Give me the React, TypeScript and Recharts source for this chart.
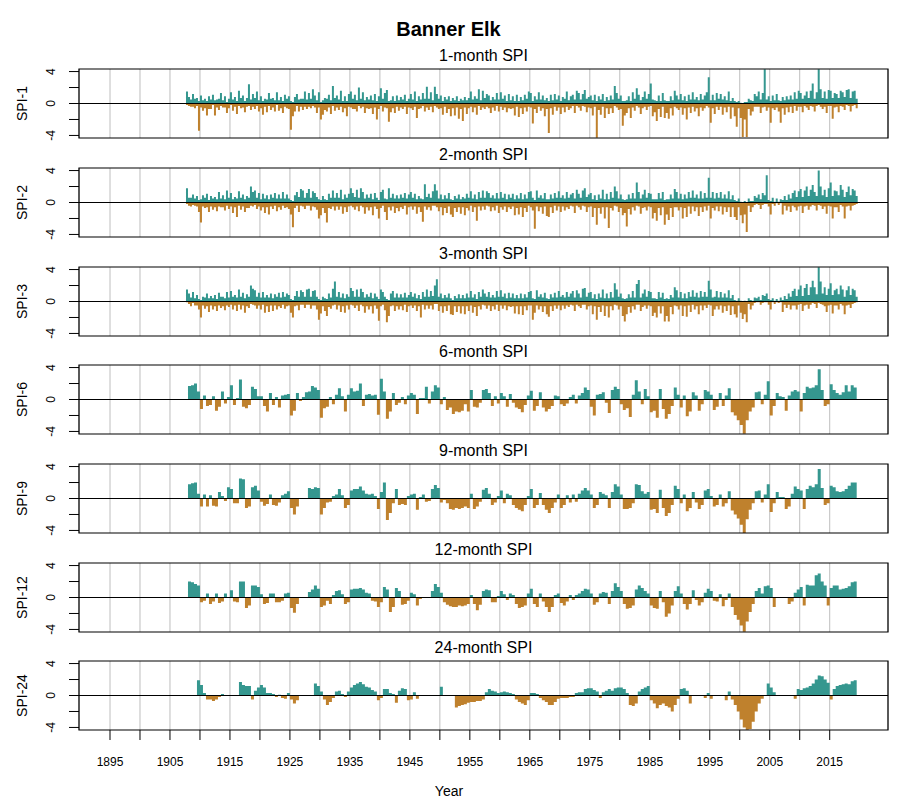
import React from "react";
import {
  ComposedChart,
  Area,
  XAxis,
  YAxis,
  CartesianGrid,
  ReferenceLine,
  ReferenceArea,
} from "recharts";

// short-scale panels are read in 4-month bins, long-scale panels in half-year bins
const FAST_START = 1907 + 2 / 3;
const FAST_STEP = 1 / 3;
const SLOW_START = 1908;
const SLOW_STEP = 0.5;

// main spike of each 4-month bin
const spi1 = [
  // 1907
  1.5,
  // 1908-1912
  0.8, -0.4, 1.2, -0.6, 0.7, -3.4, 1.0, -0.9, 0.6, -1.5, 0.9, -0.7, 1.1, -1.5, 0.5,
  // 1913-1917
  -0.8, 1.3, -0.5, 0.9, -1.2, 0.6, 1.4, -0.9, 0.8, -1.3, 1.6, -0.6, 1.0, -1.1, 0.7,
  // 1918-1922
  2.4, -0.8, 1.2, -0.7, 1.5, -1.0, 0.9, -1.4, 0.6, -1.1, 1.3, -0.8, 0.7, -1.0, 1.4,
  // 1923-1927
  -0.9, 0.8, -1.2, 1.1, -0.6, 0.9, -3.3, -1.6, 0.8, 1.2, -1.0, 0.6, -0.8, 1.5, -0.7,
  // 1928-1932
  1.3, -0.6, 1.8, 1.0, -1.2, 1.4, -2.0, -1.4, 0.7, -1.0, 1.1, -1.3, 2.2, -0.9, 1.0,
  // 1933-1937
  -0.8, 1.6, -1.1, 0.9, -1.6, 1.2, 1.5, -0.7, 1.1, -1.0, 2.0, -0.6, 1.4, -1.2, 0.8,
  // 1938-1942
  -0.7, 1.0, -1.3, 1.2, -2.0, 0.9, 1.9, -1.0, 1.3, 1.7, -2.3, -1.1, 0.9, -1.2, 1.0,
  // 1943-1947
  -0.9, 0.8, -0.7, 1.1, -1.3, 0.6, 1.2, -0.8, 1.5, -1.8, 0.9, -0.6, 1.3, -1.0, 2.1,
  // 1948-1952
  -0.8, 1.4, -1.1, 2.1, 1.2, -0.7, 1.0, -1.4, 0.8, -1.2, 0.9, -1.6, 0.7, -1.5, 0.9,
  // 1953-1957
  -1.9, 0.6, -2.2, 0.8, -1.3, 0.7, 1.5, -1.1, 0.9, -1.4, 1.8, -0.8, 1.6, -0.7, 1.2,
  // 1958-1962
  1.0, -1.2, 0.8, -0.9, 1.3, -1.0, 1.4, -0.8, 1.0, -1.1, 1.2, -0.7, 0.9, -1.5, 1.1,
  // 1963-1967
  -1.7, 0.8, -1.3, 1.1, -1.0, 1.5, 1.3, -2.5, 0.9, -1.2, 1.4, -0.9, 1.0, -1.6, 0.7,
  // 1968-1972
  -3.7, 1.1, -1.4, 1.2, -0.9, 1.0, -1.3, 0.8, -1.1, 1.5, -0.8, 0.9, 1.1, -1.2, 1.6,
  // 1973-1977
  1.3, -0.9, 1.2, 1.7, -1.1, 0.8, 1.0, -1.5, 1.1, -4.3, 0.9, -1.4, 1.2, -1.8, 0.8,
  // 1978-1982
  -1.3, 1.0, -1.2, 2.2, 1.3, -0.8, 1.0, -2.8, -1.5, -1.2, 0.9, -1.8, 1.4, -0.9, 1.9,
  // 1983-1987
  1.1, -1.3, 0.8, 1.5, -0.8, 1.2, 2.5, -1.6, -1.1, -2.2, 1.0, -1.7, 1.3, -1.8, -1.2,
  // 1988-1992
  -1.9, 0.9, -1.5, 1.6, 1.0, -0.8, 1.2, -1.4, 0.9, -2.0, 1.1, -1.2, 1.4, -1.0, 0.8,
  // 1993-1997
  -1.6, 1.2, -0.9, 1.0, 1.4, 3.3, -2.4, 1.1, -1.3, 1.3, -0.8, 1.2, -1.4, 0.9, -1.1,
  // 1998-2002
  1.5, -1.9, 0.7, -1.6, -2.9, 0.3, -1.8, -4.2, -2.0, -4.2, 0.6, -1.5, -1.0, 1.2, 0.9,
  // 2003-2007
  1.5, -1.2, 1.3, 4.3, -0.9, 0.9, -2.4, 1.0, -0.8, 1.2, -1.0, -2.4, 0.8, -1.4, 0.9,
  // 2008-2012
  -1.1, 1.0, -1.2, 1.4, -0.9, 1.6, 1.3, -1.1, 1.0, 1.5, -0.8, 1.6, 2.5, -1.0, 1.4,
  // 2013-2017
  4.3, 1.8, -0.7, 1.5, -1.2, 1.7, 1.6, -1.9, 1.3, 1.2, -1.1, 1.6, 1.4, -0.8, 1.7,
  // 2018-2019
  1.8, -1.0, 1.5, 1.6, -0.6,
];

// smaller opposite-sign spike inside the same 4-month bin
const spi1Alt = [
  -0.2,
  -0.3, 0.5, -0.4, 0.6, -0.3, 0.3, -0.5, 0.4, -0.6, 0.3, -0.7, 0.5, -0.2, 0.4, -0.5,
  0.6, -0.3, 0.4, -0.5, 0.2, -0.6, -0.2, 0.5, -0.4, 0.3, -0.3, 0.7, -0.5, 0.3, -0.4,
  -0.3, 0.5, -0.4, 0.7, -0.3, 0.4, -0.6, 0.3, -0.4, 0.5, -0.3, 0.6, -0.5, 0.4, -0.2,
  0.4, -0.6, 0.3, -0.4, 0.6, -0.7, 0.3, 0.2, -1.0, -0.3, 0.5, -0.4, 0.6, -0.4, 0.5,
  -0.4, 0.6, -0.3, -0.5, 0.4, -0.5, 0.2, 0.4, -0.8, 0.6, -0.5, 0.4, -0.3, 0.7, -0.5,
  0.5, -0.4, 0.3, -0.6, 0.3, -0.4, -0.5, 0.6, -0.7, 0.4, -0.3, 0.6, -0.4, 0.4, -0.6,
  0.5, -0.6, 0.4, -0.5, 0.3, -0.7, -0.3, 0.6, -0.5, -0.6, 0.3, 0.4, -0.6, 0.3, -0.4,
  0.4, -0.5, 0.5, -0.4, 0.3, -0.5, -0.6, 0.5, -0.4, 0.3, -0.7, 0.5, -0.3, 0.6, -0.5,
  0.6, -0.4, 0.4, -0.3, -0.5, 0.6, -0.6, 0.3, -0.4, 0.5, -0.7, 0.3, -0.6, 0.4, -0.5,
  0.3, -0.7, 0.4, -0.5, 0.4, -0.6, -0.4, 0.5, -0.5, 0.6, -0.3, 0.4, -0.5, 0.7, -0.4,
  -0.6, 0.4, -0.5, 0.5, -0.3, 0.5, -0.4, 0.6, -0.5, 0.3, -0.6, 0.4, -0.6, 0.3, -0.4,
  0.3, -0.6, 0.4, -0.5, 0.6, -0.4, -0.5, 0.3, -0.7, 0.5, -0.4, 0.5, -0.6, 0.4, -0.7,
  0.3, -0.6, 0.4, -0.4, 0.5, -0.5, 0.3, -0.5, 0.6, -0.4, 0.4, -0.6, -0.3, 0.5, -0.3,
  -0.5, 0.5, -0.3, -0.4, 0.6, -0.5, -0.6, 0.4, -0.4, 0.3, -0.8, 0.5, -0.4, 0.3, -0.6,
  0.4, -0.6, 0.5, -0.3, -0.5, 0.6, -0.7, 0.3, 0.3, 0.4, -0.6, 0.3, -0.5, 0.6, -0.3,
  -0.5, 0.4, -0.6, -0.4, 0.6, -0.4, -0.3, 0.5, 0.4, 0.3, -0.7, 0.3, -0.4, 0.4, 0.3,
  0.3, -0.6, 0.4, -0.4, -0.6, 0.5, -0.5, 0.4, -0.6, 0.3, -0.5, 0.5, -0.4, 0.5, -0.6,
  0.4, -0.5, 0.5, -0.6, -0.3, -0.5, 0.4, -0.6, 0.4, -0.4, 0.6, -0.4, 0.5, -0.5, 0.4,
  -0.4, 0.3, -0.5, 0.3, 0.2, -0.6, 0.1, 0, 0.2, 0.2, -0.7, 0.4, 0.3, -0.4, -0.4,
  -0.4, 0.5, -0.5, -0.4, 0.5, -0.5, 0.3, -0.6, 0.4, -0.5, 0.4, 0.3, -0.6, 0.4, -0.5,
  0.5, -0.4, 0.5, -0.3, 0.6, -0.4, -0.4, 0.6, -0.3, -0.5, 0.7, -0.3, -0.4, 0.6, -0.3,
  -0.2, -0.4, 0.7, -0.4, 0.6, -0.3, -0.3, 0.7, -0.5, -0.4, 0.7, -0.3, -0.4, 0.8, -0.2,
  -0.3, 0.7, -0.3, -0.2, 0.6,
];

const spi2 = [
  // 1907
  1.8,
  // 1908-1912
  0.6, -0.5, 1.0, -0.4, 0.8, -1.2, -2.5, 0.9, -0.7, 1.1, -1.2, 0.8, -0.9, 0.7, -1.1,
  // 1913-1917
  1.3, -0.6, 0.9, -1.0, 1.5, -0.8, 1.2, -1.3, 0.7, -1.8, 1.4, -0.9, 1.0, -1.2, 0.8,
  // 1918-1922
  -0.7, 2.0, 1.3, 1.5, -0.8, 1.2, -1.0, 1.1, -1.3, 0.9, -1.5, 1.0, -0.8, 1.2, -1.1,
  // 1923-1927
  1.0, -0.9, 1.3, -0.7, 1.0, -0.8, -1.5, -3.1, 0.9, 1.3, -1.2, 1.7, 1.5, -0.8, 1.2,
  // 1928-1932
  1.7, -1.0, 1.4, 1.2, -0.9, -2.0, -1.6, 0.8, -1.3, -2.5, 1.1, -0.8, 1.5, -1.0, 1.2,
  // 1933-1937
  -0.9, 1.6, -1.4, 1.0, -1.2, 1.1, 1.8, 1.2, -0.9, 1.6, -1.1, 1.8, 1.3, -1.4, 1.0,
  // 1938-1942
  -1.0, 1.1, -1.6, 1.2, -0.8, -2.0, 1.3, 1.6, -1.2, -2.2, 1.8, -1.0, 1.1, -1.3, 0.9,
  // 1943-1947
  -1.1, 1.0, -0.8, 1.2, -1.5, 1.0, 1.3, -0.9, 1.1, -1.4, 0.8, -1.2, -2.4, 2.3, -0.9,
  // 1948-1952
  1.1, -1.0, 1.4, 2.3, 1.5, -1.1, 1.0, -1.6, 0.9, -1.3, 1.2, -1.5, -1.8, 0.8, -1.2,
  // 1953-1957
  1.0, -1.4, 0.7, -1.6, 1.1, -1.0, 1.4, -1.2, 1.0, -2.3, 1.3, -1.0, 1.5, -0.9, 1.4,
  // 1958-1962
  1.2, -1.1, 0.9, -1.0, 1.2, -1.3, 1.3, -0.9, 1.1, -1.2, 1.0, -0.8, 1.1, -1.6, 0.9,
  // 1963-1967
  -1.5, 1.2, -1.8, 1.0, -1.2, 1.3, 1.4, -1.0, -3.3, 1.5, -1.1, 0.9, -1.4, 1.2, -1.7,
  // 1968-1972
  -1.8, 1.0, -1.3, 1.2, -1.0, 1.4, -1.2, 0.9, -1.0, 1.3, -0.8, 1.0, 1.2, -1.3, 1.6,
  // 1973-1977
  1.1, -0.9, 1.5, 1.8, -1.2, 1.0, 1.2, -1.8, 0.9, -2.8, 1.0, -1.4, 1.6, -2.0, 1.1,
  // 1978-1982
  -3.2, 1.3, -1.0, 2.0, 1.4, -1.2, 1.0, -1.6, -1.3, -3.0, 1.0, -1.5, 1.2, -1.0, 2.5,
  // 1983-1987
  1.3, -1.4, 1.0, 1.6, -1.0, 1.2, 1.1, -2.0, -1.3, -2.3, 1.2, -1.6, 1.3, -2.8, -1.5,
  // 1988-1992
  -2.2, 1.0, -1.8, 1.7, 1.3, -1.0, 1.1, -2.0, 1.0, -1.8, 1.3, -1.4, 1.5, -1.1, 1.0,
  // 1993-1997
  -1.7, 1.4, -1.2, 1.2, -1.0, 3.1, -2.0, 1.3, -1.0, 1.2, -1.1, 1.3, -1.5, 1.0, -1.2,
  // 1998-2002
  1.4, -1.8, 0.9, -1.8, -2.2, 0.5, -1.6, -2.6, -1.5, -3.7, 0.5, -1.2, -0.6, 0.8, 0.6,
  // 2003-2007
  1.0, -0.8, 1.2, 0.9, 3.4, -0.5, -1.5, 0.6, -0.4, 0.5, -0.3, 0.4, -1.5, 0.8, -1.0,
  // 2008-2012
  1.0, -1.2, 1.2, 1.5, -1.0, 1.4, 1.7, -1.3, 1.5, 2.0, -0.9, 1.6, 2.2, 1.3, -1.0,
  // 2013-2017
  4.0, 2.0, -0.8, 1.6, -1.4, 1.8, 2.5, -2.0, 1.5, 1.4, -1.2, 2.2, 1.6, -2.0, 1.3,
  // 2018-2019
  2.0, -1.0, 1.7, 1.5, 0.8,
];

const spi2Alt = [
  -0.2,
  -0.4, 0.6, -0.3, 0.5, -0.5, 0.3, 0.4, -0.5, 0.6, -0.6, 0.3, -0.5, 0.5, -0.6, 0.4,
  -0.5, 0.5, -0.6, 0.4, -0.4, 0.6, -0.5, 0.4, -0.6, 0.5, -0.4, 0.6, -0.5, 0.4, -0.7,
  0.6, -0.4, -0.5, -0.3, 0.6, -0.5, 0.4, -0.6, 0.5, -0.6, 0.4, -0.5, 0.6, -0.4, 0.5,
  -0.6, 0.5, -0.4, 0.5, -0.6, 0.5, 0.3, 0.2, -0.7, -0.4, 0.7, -0.4, -0.5, 0.6, -0.4,
  -0.4, 0.6, -0.5, -0.6, 0.7, 0.4, 0.3, -0.7, 0.4, 0.3, -0.7, 0.6, -0.5, 0.6, -0.5,
  0.6, -0.5, 0.4, -0.6, 0.6, -0.5, -0.4, -0.6, 0.7, -0.5, 0.6, -0.4, -0.6, 0.5, -0.6,
  0.6, -0.6, 0.4, -0.5, 0.6, 0.3, -0.7, -0.4, 0.5, 0.4, -0.6, 0.6, -0.5, 0.5, -0.7,
  0.5, -0.6, 0.6, -0.4, 0.5, -0.6, -0.5, 0.6, -0.5, 0.4, -0.6, 0.5, 0.4, -0.5, 0.7,
  -0.6, 0.6, -0.4, -0.4, -0.6, 0.5, -0.6, 0.4, -0.7, 0.5, -0.5, 0.4, 0.3, -0.7, 0.5,
  -0.6, 0.4, -0.6, 0.5, -0.7, 0.6, -0.4, 0.5, -0.6, 0.4, -0.5, 0.6, -0.5, 0.6, -0.4,
  -0.5, 0.6, -0.6, 0.5, -0.4, 0.5, -0.6, 0.6, -0.5, 0.4, -0.6, 0.6, -0.5, 0.4, -0.7,
  0.5, -0.6, 0.4, -0.7, 0.5, -0.4, -0.6, 0.6, 0.3, -0.5, 0.6, -0.6, 0.5, -0.5, 0.4,
  0.4, -0.6, 0.5, -0.4, 0.6, -0.5, 0.6, -0.5, 0.5, -0.6, 0.6, -0.4, -0.5, 0.5, -0.4,
  -0.6, 0.6, -0.4, -0.5, 0.7, -0.6, -0.5, 0.4, -0.7, 0.3, -0.7, 0.5, -0.6, 0.4, -0.6,
  0.4, -0.7, 0.6, -0.4, -0.5, 0.5, -0.7, 0.4, 0.3, 0.4, -0.8, 0.5, -0.6, 0.5, -0.4,
  -0.5, 0.5, -0.7, -0.6, 0.6, -0.5, -0.6, 0.4, 0.4, 0.4, -0.7, 0.5, -0.6, 0.3, 0.4,
  0.4, -0.7, 0.5, -0.6, -0.6, 0.5, -0.6, 0.4, -0.7, 0.5, -0.5, 0.6, -0.5, 0.6, -0.6,
  0.5, -0.6, 0.5, -0.5, 0.6, -0.4, 0.6, -0.7, 0.5, -0.5, 0.6, -0.5, 0.5, -0.6, 0.5,
  -0.6, 0.4, -0.6, 0.3, 0.2, -0.6, 0.1, 0, 0.2, 0, -0.4, 0.2, 0.2, -0.3, -0.2,
  -0.3, 0.4, -0.3, -0.2, -0.2, 0.3, 0.2, -0.2, 0.1, -0.1, 0.1, -0.1, 0.3, -0.4, 0.3,
  -0.5, 0.5, -0.4, -0.6, 0.7, -0.5, -0.4, 0.7, -0.5, -0.4, 0.8, -0.5, -0.3, -0.4, 0.8,
  -0.3, -0.4, 0.9, -0.5, 0.7, -0.4, -0.5, 0.8, -0.6, -0.6, 0.9, -0.3, -0.5, 0.7, -0.5,
  -0.4, 0.9, -0.4, -0.3, -0.2,
];

const spi3 = [
  // 1907
  1.5,
  // 1908-1912
  1.0, -0.6, 1.2, -0.5, 0.8, -1.0, -2.0, 0.6, -0.9, 1.0, -1.3, 0.7, -1.0, 0.8, -1.2,
  // 1913-1917
  1.1, -0.8, 0.6, -1.1, 1.2, -0.7, 1.3, -1.0, 0.8, -1.2, 1.5, -1.0, 1.1, -1.4, 0.9,
  // 1918-1922
  -0.8, 2.0, 1.6, 1.4, -0.9, 1.1, -1.0, 1.2, -1.4, 0.8, -1.3, 1.0, -1.2, 0.9, -1.0,
  // 1923-1927
  1.1, -0.8, 1.2, -0.9, 1.0, 0.8, -1.4, -2.0, 0.7, 1.3, -1.1, 1.4, 1.2, -0.8, 1.5,
  // 1928-1932
  1.6, -0.9, 1.3, 1.4, -1.0, -2.3, -1.5, 0.6, -1.2, -1.8, 1.0, -0.9, 1.6, 2.5, -1.0,
  // 1933-1937
  1.2, -1.3, 1.0, -1.4, 0.9, -1.0, 1.7, 1.3, -0.8, 1.5, -1.2, 1.6, 1.2, -1.4, 0.9,
  // 1938-1942
  -1.0, 1.1, -1.5, 1.0, -0.9, -2.4, 1.5, 1.2, -1.1, -2.6, -1.8, 1.0, 1.3, -1.2, 1.0,
  // 1943-1947
  -1.0, 0.9, -1.1, 1.1, -1.3, 0.8, 1.2, -0.8, 1.0, -1.2, 0.8, -2.0, 1.2, -1.0, 1.5,
  // 1948-1952
  -0.9, 1.3, -1.0, 2.0, 2.8, -1.2, 1.0, -1.4, 0.8, -1.2, 1.0, -1.6, -1.7, 0.7, -1.3,
  // 1953-1957
  0.9, -1.5, 0.8, -1.6, 1.0, -1.2, 1.3, -1.4, 0.9, -1.8, 1.2, -1.0, 1.5, 1.0, -0.9,
  // 1958-1962
  1.2, -1.2, 0.8, -1.0, 1.3, -1.2, 1.4, -0.9, 1.0, -1.1, 1.1, -0.7, 1.0, -1.5, 0.8,
  // 1963-1967
  -1.6, 1.0, -1.7, 0.9, -1.1, 1.2, 1.3, -2.3, -1.4, 1.4, -1.0, 0.9, -1.3, 1.1, -1.6,
  // 1968-1972
  -1.9, 0.9, -1.2, 1.1, -0.9, 1.3, -1.1, 0.8, -0.9, 1.2, -0.7, 1.0, 1.3, -1.2, 1.4,
  // 1973-1977
  1.0, -0.8, 1.6, 1.7, -1.0, 1.1, 1.2, -1.6, 0.9, -2.3, 1.0, -1.3, 1.5, -1.8, 1.0,
  // 1978-1982
  -2.0, 1.2, -1.1, 2.3, 1.5, -1.0, 1.0, -1.8, -2.5, -1.6, 0.9, -1.4, 1.3, -1.0, 2.2,
  // 1983-1987
  2.7, -1.2, 1.0, 1.5, -0.9, 1.3, 1.2, -1.8, -1.4, -2.0, 1.2, -1.5, 1.1, -2.5, -1.8,
  // 1988-1992
  -2.5, 0.8, -1.6, 1.8, 1.4, -1.0, 1.2, -1.8, 1.0, -1.9, 1.2, -1.3, 1.4, -1.0, 1.1,
  // 1993-1997
  -1.6, 1.3, -1.1, 1.2, -0.8, 2.6, 1.5, -1.8, -1.0, 1.3, -1.0, 1.2, -1.4, 1.0, -1.2,
  // 1998-2002
  1.4, -1.7, 0.8, -1.6, -2.0, 0.4, -1.4, -2.2, -1.6, -2.6, 0.4, -1.0, -0.5, 0.5, 0.4,
  // 2003-2007
  0.6, -0.4, 0.8, 0.7, 1.0, -0.4, -1.0, 0.4, -0.3, 0.3, -0.2, 0.5, -1.3, 0.7, -0.8,
  // 2008-2012
  1.0, -1.0, 1.3, 1.6, -1.0, 1.5, 2.0, -1.2, 1.7, 2.2, -0.9, 1.8, 2.6, 1.8, -0.8,
  // 2013-2017
  4.3, 2.5, 1.0, 1.8, -1.3, 1.6, 2.3, -1.5, 1.4, 1.6, -1.0, 2.0, 1.5, -1.6, 1.4,
  // 2018-2019
  1.9, -0.8, 1.6, 1.4, 0.6,
];

const spi3Alt = [
  -0.1,
  -0.3, 0.5, -0.2, 0.4, -0.5, 0.3, 0.2, -0.5, 0.5, -0.6, 0.4, -0.5, 0.4, -0.6, 0.3,
  -0.5, 0.6, -0.6, 0.4, -0.5, 0.5, -0.4, 0.6, -0.5, 0.5, -0.4, 0.6, -0.5, 0.4, -0.6,
  0.6, -0.3, -0.4, -0.5, 0.6, -0.5, 0.5, -0.4, 0.5, -0.6, 0.5, -0.5, 0.4, -0.5, 0.6,
  -0.6, 0.5, -0.4, 0.6, -0.6, -0.5, 0.3, 0.2, -0.6, -0.5, 0.6, -0.4, -0.4, 0.6, -0.4,
  -0.4, 0.6, -0.5, -0.5, 0.6, 0.3, 0.2, -0.6, 0.4, 0.3, -0.7, 0.5, -0.5, -0.4, 0.6,
  -0.5, 0.5, -0.6, 0.4, -0.5, 0.6, -0.4, -0.5, 0.6, -0.5, 0.6, -0.4, -0.6, 0.5, -0.6,
  0.6, -0.6, 0.4, -0.5, 0.6, 0.3, -0.6, -0.4, 0.6, 0.3, 0.2, -0.6, -0.5, 0.5, -0.6,
  0.5, -0.6, 0.5, -0.4, 0.5, -0.6, -0.5, 0.6, -0.5, 0.4, -0.6, 0.3, -0.4, 0.6, -0.5,
  0.6, -0.5, 0.7, -0.3, -0.3, 0.6, -0.6, 0.4, -0.6, 0.5, -0.5, 0.4, 0.2, -0.6, 0.4,
  -0.6, 0.4, -0.6, 0.4, -0.6, 0.5, -0.5, 0.5, -0.7, 0.3, -0.6, 0.6, -0.4, -0.5, 0.6,
  -0.5, 0.5, -0.6, 0.5, -0.4, 0.6, -0.5, 0.6, -0.5, 0.4, -0.6, 0.5, -0.6, 0.4, -0.6,
  0.4, -0.6, 0.4, -0.6, 0.5, -0.5, -0.5, 0.4, 0.3, -0.5, 0.6, -0.6, 0.5, -0.6, 0.4,
  0.3, -0.6, 0.5, -0.5, 0.5, -0.5, 0.6, -0.5, 0.5, -0.5, 0.6, -0.4, -0.5, 0.5, -0.4,
  -0.6, 0.5, -0.4, -0.4, 0.6, -0.6, -0.5, 0.4, -0.6, 0.3, -0.7, 0.5, -0.5, 0.4, -0.6,
  0.4, -0.6, 0.5, -0.4, -0.5, 0.6, -0.6, 0.4, 0.3, 0.4, -0.7, 0.5, -0.6, 0.5, -0.4,
  -0.4, 0.5, -0.7, -0.5, 0.6, -0.5, -0.6, 0.4, 0.4, 0.3, -0.6, 0.5, -0.6, 0.3, 0.4,
  0.3, -0.7, 0.5, -0.5, -0.6, 0.5, -0.5, 0.4, -0.6, 0.4, -0.5, 0.6, -0.4, 0.6, -0.6,
  0.5, -0.5, 0.6, -0.5, 0.6, -0.4, -0.5, 0.5, 0.6, -0.6, 0.5, -0.5, 0.5, -0.6, 0.5,
  -0.5, 0.4, -0.6, 0.2, 0.1, -0.5, 0.1, 0, 0.1, 0, -0.3, 0.2, 0.1, -0.2, -0.1,
  -0.1, 0.2, -0.2, -0.1, -0.1, 0.3, 0.2, -0.1, 0.1, -0.1, 0.1, -0.1, 0.2, -0.4, 0.3,
  -0.4, 0.6, -0.5, -0.5, 0.7, -0.4, -0.3, 0.7, -0.5, -0.4, 0.8, -0.4, -0.2, -0.3, 0.9,
  -0.2, -0.3, -0.4, -0.6, 0.8, -0.5, -0.4, 0.8, -0.5, -0.5, 0.9, -0.3, -0.5, 0.6, -0.5,
  -0.4, 0.8, -0.3, -0.2, -0.1,
];

const spi6 = [
  // 1908-1912
  1.7, 1.8, 2.0, 1.0, -1.2, 0.5, -0.8, -0.7, 0.4, -1.4,
  // 1913-1917
  -0.9, 1.0, -0.5, 0.3, 1.8, -0.7, 0.2, 2.5, -0.9, -1.1,
  // 1918-1922
  -0.7, 1.6, 1.3, 0.4, 0.4, -0.8, -1.5, 0.8, -0.7, 0.3,
  // 1923-1927
  -1.0, 0.5, 0.6, 0.7, -2.0, -1.4, 0.8, -0.2, 0.3, 0.9,
  // 1928-1932
  1.0, 1.7, 1.5, 1.2, -2.3, -1.1, -0.9, 0.3, -0.6, 0.6,
  // 1933-1937
  1.4, 0.4, -1.5, 0.6, 1.4, 1.0, 1.1, 2.0, -0.8, 0.6,
  // 1938-1942
  0.7, 0.5, 0.6, -1.9, 2.6, 1.0, -2.4, -1.5, 0.8, -0.7,
  // 1943-1947
  -0.4, 0.3, -0.6, 0.5, 0.8, 0.6, -1.8, 0.2, 0.2, 1.6,
  // 1948-1952
  -0.5, 1.0, 1.8, 1.5, -0.6, 0.3, -1.3, -1.0, -1.8, -1.5,
  // 1953-1957
  -1.6, -1.4, -0.6, -1.5, 1.2, -0.9, -1.0, -0.4, 1.2, 1.3,
  // 1958-1962
  0.8, -0.8, 0.4, -0.5, 0.8, 0.4, -0.9, 0.7, -0.4, -1.0,
  // 1963-1967
  -1.2, -1.6, -0.7, 0.5, 1.1, -1.4, -0.8, 0.9, -1.0, -1.5,
  // 1968-1972
  -1.2, -0.8, 0.5, 0.4, -0.6, -0.8, -0.5, 0.3, 0.6, -0.5,
  // 1973-1977
  0.5, 0.8, 1.5, 1.2, -0.9, -2.0, 0.6, 0.7, 0.9, -0.4,
  // 1978-1982
  -1.7, 1.2, 1.6, 1.3, -0.6, -1.3, -1.1, -2.2, 0.6, 2.4,
  // 1983-1987
  1.0, -0.6, 1.3, 0.4, -1.6, -1.4, -2.3, 1.3, -1.2, -2.4,
  // 1988-1992
  -1.8, -0.8, 1.5, 0.6, -1.0, 0.5, -2.1, -1.5, 0.9, 0.5,
  // 1993-1997
  -1.4, -0.6, 1.2, 1.0, 0.6, -1.3, -0.9, 0.8, -0.8, 0.5,
  // 1998-2002
  1.4, -1.6, -2.0, -2.6, -3.2, -4.3, -2.6, -1.5, -1.0, 0.9,
  // 2003-2007
  1.0, -0.6, 0.6, 2.3, -2.0, -0.8, 0.8, 0.4, 0.3, -1.4,
  // 2008-2012
  0.5, 1.0, 1.2, 1.0, -1.5, 0.8, 1.6, 1.4, 1.5, 1.8,
  // 2013-2017
  3.8, 1.2, -0.8, -0.6, 1.9, 1.2, 0.8, 0.6, 0.9, 1.8,
  // 2018-2019
  1.0, 1.8, 1.5,
];

const spi9 = [
  // 1908-1912
  1.8, 1.9, 2.0, 0.6, -1.0, 0.5, -1.0, 0.4, -0.9, -1.0,
  // 1913-1917
  0.8, 0.3, -0.3, 1.4, 1.2, -0.6, -0.6, 2.5, 2.4, -1.2,
  // 1918-1922
  -1.0, 1.4, 1.6, 1.0, -0.4, -0.9, -0.7, 0.5, -0.8, -0.9,
  // 1923-1927
  -0.5, 0.4, 0.6, 0.9, -1.2, -2.0, -1.0, 0, 0, 0,
  // 1928-1932
  1.3, 1.2, 1.4, 1.3, -2.0, -1.2, -0.5, -0.4, 0.3, 0.5,
  // 1933-1937
  1.2, 0.4, -1.2, -0.8, 1.0, 1.2, 1.2, 1.5, 1.0, 0.6,
  // 1938-1942
  0.5, 0.6, 0.3, -1.3, 0.8, 2.0, -2.7, -1.8, -0.6, 1.2,
  // 1943-1947
  -0.8, -0.7, -0.8, 0.3, 0.5, 0.6, -1.4, 0.2, 0.5, -0.4,
  // 1948-1952
  -0.3, 1.2, 1.7, 1.3, -0.5, -0.2, -0.6, -1.3, -1.4, -1.2,
  // 1953-1957
  -1.3, -1.2, -1.0, -1.2, 0.6, -1.3, -1.0, -0.4, 1.1, 1.3,
  // 1958-1962
  0.6, -0.8, -0.5, 0.3, 1.0, -0.6, 0.6, 0.4, -0.8, -1.2,
  // 1963-1967
  -1.4, -1.6, -0.8, 0.3, 1.2, -1.2, -0.8, 0.7, -0.8, -1.4,
  // 1968-1972
  -1.8, -1.2, -0.5, 0.5, -1.2, -0.8, 0.4, -0.5, 0.5, -0.4,
  // 1973-1977
  0.6, 1.0, 1.3, 1.0, 0.5, -1.2, -0.8, 0.8, 0.6, 0.4,
  // 1978-1982
  -1.2, 0.8, 1.8, 1.5, 0.5, -1.3, -1.3, -1.2, -0.6, 1.8,
  // 1983-1987
  1.7, 0.9, 0.6, 0.8, -1.4, -1.3, -1.8, 1.1, -1.2, -2.2,
  // 1988-1992
  -1.8, -0.8, 1.6, 1.2, -0.6, 0.5, -1.6, -1.2, 0.8, -0.5,
  // 1993-1997
  -1.3, -0.8, 1.0, 1.2, 0.3, -1.0, -0.8, 0.5, -1.0, -0.6,
  // 1998-2002
  0.9, -1.5, -2.0, -2.5, -3.3, -4.4, -2.6, -1.4, -0.6, 0.9,
  // 2003-2007
  1.0, -0.5, 0.5, 1.8, -1.7, -0.6, 0.8, 0.2, 0.2, -1.3,
  // 2008-2012
  -1.0, 0.6, 1.5, 1.2, 1.0, -1.3, 1.2, 1.6, 1.4, 1.8,
  // 2013-2017
  3.7, 1.3, -0.8, -0.6, 1.6, 1.4, 0.9, 0.8, 0.9, 1.2,
  // 2018-2019
  1.6, 2.0, 2.0,
];

const spi12 = [
  // 1908-1912
  2.0, 1.9, 1.7, 1.5, -0.6, -0.4, 0.5, -0.8, -0.5, 0.5,
  // 1913-1917
  -0.7, -0.5, 0.5, 0, 0.9, -0.5, -0.6, 2.0, 2.0, -1.3,
  // 1918-1922
  -1.0, 1.5, 1.5, 1.3, 0.4, -0.8, -0.7, 0.5, 0.5, -0.6,
  // 1923-1927
  -0.6, -0.4, 0.5, 0.6, -1.3, -1.9, -0.8, 0, 0, 0,
  // 1928-1932
  0.7, 1.0, 1.5, 1.1, -1.2, -1.0, -0.4, -0.8, 0.3, 0.8,
  // 1933-1937
  0.9, 0.4, -0.8, -0.6, 1.0, 1.1, 1.1, 1.2, 1.0, 0.6,
  // 1938-1942
  0.5, -0.4, -0.5, -1.2, -0.6, 1.3, 1.0, -1.8, -1.2, 1.2,
  // 1943-1947
  0.8, -0.9, -0.8, -0.4, 0.6, 0.4, -1.0, -0.2, 0, 0,
  // 1948-1952
  0, 0.8, 1.7, 1.3, 0.6, -0.6, -0.9, -1.1, -1.2, -1.2,
  // 1953-1957
  -1.0, -1.1, -1.0, -0.8, 0.3, -0.8, -1.6, -0.9, 0.8, 1.0,
  // 1958-1962
  0.9, -0.6, -0.6, 0.2, 0.8, 0.4, -0.3, 0.5, 0.3, -0.8,
  // 1963-1967
  -1.3, -1.2, -1.0, 0.5, 1.1, -0.8, -1.2, 0.5, -0.5, -1.2,
  // 1968-1972
  -1.8, -1.2, 0.3, 0.5, -0.7, -1.0, -0.5, 0.3, -0.3, 0.3,
  // 1973-1977
  0.5, 0.8, 1.1, 1.0, 0.5, -0.9, -0.6, 0.5, 0.7, 0.6,
  // 1978-1982
  -0.8, 0.8, 1.8, 1.3, 0.8, -0.8, -1.4, -1.3, -1.0, 1.0,
  // 1983-1987
  1.5, 1.2, 0.8, 0.5, -1.0, -1.3, -1.4, 0.8, -0.6, -2.4,
  // 1988-1992
  -2.0, -1.0, 0.8, 1.4, 0.5, -0.8, -1.5, -0.8, 0.9, -0.3,
  // 1993-1997
  -1.0, -0.6, 0.6, 1.1, 0.8, -0.4, -0.5, 0.4, -1.1, -0.3,
  // 1998-2002
  0.5, -1.2, -2.2, -2.8, -3.5, -4.3, -3.0, -1.8, -0.8, 0.8,
  // 2003-2007
  1.2, 0.5, 1.4, 1.5, 1.2, -1.2, 0, 0, 0, 0,
  // 2008-2012
  -0.8, -0.5, 0.6, 1.0, 1.3, -1.0, 1.6, 1.5, 1.5, 2.8,
  // 2013-2017
  3.0, 2.0, 1.5, -1.0, 1.2, 1.5, 1.5, 1.0, 1.1, 1.2,
  // 2018-2019
  1.4, 1.9, 2.0,
];

const spi24 = [
  // 1908-1912
  0, 0, 0, 1.9, 1.3, 0.3, -0.5, -0.5, -0.7, -0.5,
  // 1913-1917
  -0.2, 0.2, 0, 0, 0, 0, 0, 1.7, 1.3, 1.2,
  // 1918-1922
  1.2, -0.5, 0.6, 1.0, 1.3, 1.0, 0.3, 0.3, 0.2, -0.2,
  // 1923-1927
  0.1, -0.3, -0.4, 0.3, -0.5, -1.0, -0.6, 0, 0, 0,
  // 1928-1932
  0, 0, 1.5, 1.2, 0.5, -0.5, -1.2, -0.8, -0.3, 0.5,
  // 1933-1937
  0.6, 0.2, -0.2, 0.5, 1.0, 1.3, 1.5, 1.7, 1.4, 1.1,
  // 1938-1942
  1.0, 0.7, 0.5, -0.6, -0.3, 0.8, 0.8, 0.3, 0.2, -0.9,
  // 1943-1947
  0.6, 0.9, 0.8, -0.6, -0.5, 0.4, -0.4, 0, 0, 0,
  // 1948-1952
  0, 0, 0, 0, 1.1, 0, 0, 0, 0, -1.5,
  // 1953-1957
  -1.3, -1.2, -1.1, -0.9, -0.8, -0.8, -0.7, -0.7, -0.5, 0.4,
  // 1958-1962
  0.8, 0.6, 0.5, 0.3, 0.4, 0.5, 0.4, 0.3, 0.2, -0.5,
  // 1963-1967
  -0.8, -1.0, -1.2, -0.6, 0.3, 0.3, 0.2, -0.3, -0.6, -0.8,
  // 1968-1972
  -1.2, -1.2, -0.8, -0.4, -0.3, -0.3, -0.3, -0.2, -0.2, 0.3,
  // 1973-1977
  0.4, 0.4, 0.8, 0.9, 0.9, 0.7, 0.5, -0.3, 0.4, 0.6,
  // 1978-1982
  0.8, 0.6, 0.9, 1.0, 1.0, 0.8, 0.3, -1.2, -1.3, -1.0,
  // 1983-1987
  0.5, 0.8, 1.0, 1.2, -0.6, -1.0, -1.6, -1.2, -1.0, -1.3,
  // 1988-1992
  -1.5, -2.0, -1.2, -0.4, 0.8, 0.9, 0.6, -1.0, 0, 0,
  // 1993-1997
  0, 0, -0.3, 0.3, -0.4, 0, 0, 0, 0, -0.6,
  // 1998-2002
  0.5, -0.5, -1.2, -2.0, -3.0, -4.0, -4.3, -4.2, -3.3, -2.0,
  // 2003-2007
  -1.0, -0.4, 0, 1.5, 1.0, 0.4, 0, 0, 0, 0,
  // 2008-2012
  0, 0, -0.4, 0.8, 0.7, 0.9, 1.0, 1.2, 1.5, 2.0,
  // 2013-2017
  2.5, 2.4, 2.0, 1.6, -0.5, 0.8, 1.2, 1.3, 1.4, 1.5,
  // 2018-2019
  1.4, 1.8, 1.9,
];

const panelNames = ["SPI-1", "SPI-2", "SPI-3", "SPI-6", "SPI-9", "SPI-12", "SPI-24"];
const panelTitles = [
  "1-month SPI",
  "2-month SPI",
  "3-month SPI",
  "6-month SPI",
  "9-month SPI",
  "12-month SPI",
  "24-month SPI",
];
const yearTicks = [
  1895, 1900, 1905, 1910, 1915, 1920, 1925, 1930, 1935, 1940, 1945, 1950, 1955,
  1960, 1965, 1970, 1975, 1980, 1985, 1990, 1995, 2000, 2005, 2010, 2015,
];
const yearLabels = [1895, 1905, 1915, 1925, 1935, 1945, 1955, 1965, 1975, 1985, 1995, 2005, 2015];
const spiTicks = [-4, -2, 0, 2, 4];
const spiLabels = [-4, 0, 4];

const X_MIN = 1889.83;
const X_MAX = 2024.72;
const Y_MIN = -4.32;
const Y_MAX = 4.32;

const TEAL = "#35978F";
const BROWN = "#BF812D";
const FONT = "'Liberation Sans', Arial, Helvetica, sans-serif";

const PLOT_TOP = 69.3;
const PANEL_GAP = 98.67;
const PLOT_H = 69;
const PAD = 12;
const AXIS_H = 60;

const toRows = (values: number[], start: number, step: number, alt?: number[]) => {
  const rows = values.map((v, i) => {
    const a = alt ? alt[i] ?? 0 : 0;
    return {
      t: start + i * step,
      pos: Math.max(0, v, a),
      neg: Math.min(0, v, a),
    };
  });
  const last = rows[rows.length - 1];
  rows.push({ ...last, t: start + values.length * step });
  return rows;
};

const series = [
  toRows(spi1, FAST_START, FAST_STEP, spi1Alt),
  toRows(spi2, FAST_START, FAST_STEP, spi2Alt),
  toRows(spi3, FAST_START, FAST_STEP, spi3Alt),
  toRows(spi6, SLOW_START, SLOW_STEP),
  toRows(spi9, SLOW_START, SLOW_STEP),
  toRows(spi12, SLOW_START, SLOW_STEP),
  toRows(spi24, SLOW_START, SLOW_STEP),
];

const YTick = (props: any) => {
  const { x, y, payload } = props;
  if (!spiLabels.includes(payload.value)) return <g />;
  const lx = x - 12;
  return (
    <text
      x={lx}
      y={y}
      transform={`rotate(-90 ${lx} ${y})`}
      textAnchor="middle"
      fontSize={12}
      fontFamily={FONT}
      fill="#000"
    >
      {payload.value}
    </text>
  );
};

const XTick = (props: any) => {
  const { x, y, payload } = props;
  if (!yearLabels.includes(payload.value)) return <g />;
  return (
    <text x={x} y={y} dy={25.5} textAnchor="middle" fontSize={12} fontFamily={FONT} fill="#000">
      {payload.value}
    </text>
  );
};

const Panel = ({ index }: { index: number }) => {
  const last = index === series.length - 1;
  const top = Math.round(PLOT_TOP + index * PANEL_GAP) - PAD;
  return (
    <div style={{ position: "absolute", left: 0, top }}>
      <ComposedChart
        width={900}
        height={PAD + PLOT_H + (last ? AXIS_H : PAD)}
        data={series[index]}
        margin={{ top: PAD, right: 12, bottom: last ? 0 : PAD, left: 0 }}
      >
        <CartesianGrid horizontal={false} stroke="#bebebe" strokeWidth={1} />
        <XAxis
          type="number"
          dataKey="t"
          domain={[X_MIN, X_MAX]}
          allowDataOverflow
          ticks={yearTicks}
          interval={0}
          hide={!last}
          height={AXIS_H}
          tickSize={10}
          tickMargin={0}
          axisLine={false}
          tickLine={{ stroke: "#000" }}
          tick={<XTick />}
        />
        <YAxis
          type="number"
          domain={[Y_MIN, Y_MAX]}
          allowDataOverflow
          ticks={spiTicks}
          interval={0}
          width={79}
          tickSize={10}
          axisLine={false}
          tickLine={{ stroke: "#000" }}
          tick={<YTick />}
        />
        <Area
          type="stepAfter"
          dataKey="pos"
          baseValue={0}
          stroke="none"
          fill={TEAL}
          fillOpacity={1}
          dot={false}
          activeDot={false}
          isAnimationActive={false}
        />
        <Area
          type="stepAfter"
          dataKey="neg"
          baseValue={0}
          stroke="none"
          fill={BROWN}
          fillOpacity={1}
          dot={false}
          activeDot={false}
          isAnimationActive={false}
        />
        <ReferenceLine y={0} stroke="#000" strokeWidth={1} />
        <ReferenceArea
          x1={X_MIN}
          x2={X_MAX}
          y1={Y_MIN}
          y2={Y_MAX}
          fill="none"
          stroke="#000"
          strokeWidth={1.2}
        />
      </ComposedChart>
    </div>
  );
};

export default function App() {
  return (
    <div
      style={{
        position: "absolute",
        left: 0,
        top: 0,
        width: 900,
        height: 800,
        background: "#fff",
        fontFamily: FONT,
      }}
    >
      {series.map((_, i) => (
        <Panel key={panelNames[i]} index={i} />
      ))}
      <svg
        width={900}
        height={800}
        style={{ position: "absolute", left: 0, top: 0, pointerEvents: "none" }}
      >
        <text x={448.5} y={36} textAnchor="middle" fontSize={20} fontWeight="bold" fontFamily={FONT}>
          Banner Elk
        </text>
        {panelTitles.map((title, i) => {
          const top = Math.round(PLOT_TOP + i * PANEL_GAP);
          return (
            <g key={title}>
              <text x={483.5} y={top - 8} textAnchor="middle" fontSize={16} fontFamily={FONT}>
                {title}
              </text>
              <text
                x={27}
                y={top + PLOT_H / 2}
                transform={`rotate(-90 27 ${top + PLOT_H / 2})`}
                textAnchor="middle"
                fontSize={14}
                fontFamily={FONT}
              >
                {panelNames[i]}
              </text>
            </g>
          );
        })}
        <text x={449} y={796} textAnchor="middle" fontSize={14} fontFamily={FONT}>
          Year
        </text>
      </svg>
    </div>
  );
}
